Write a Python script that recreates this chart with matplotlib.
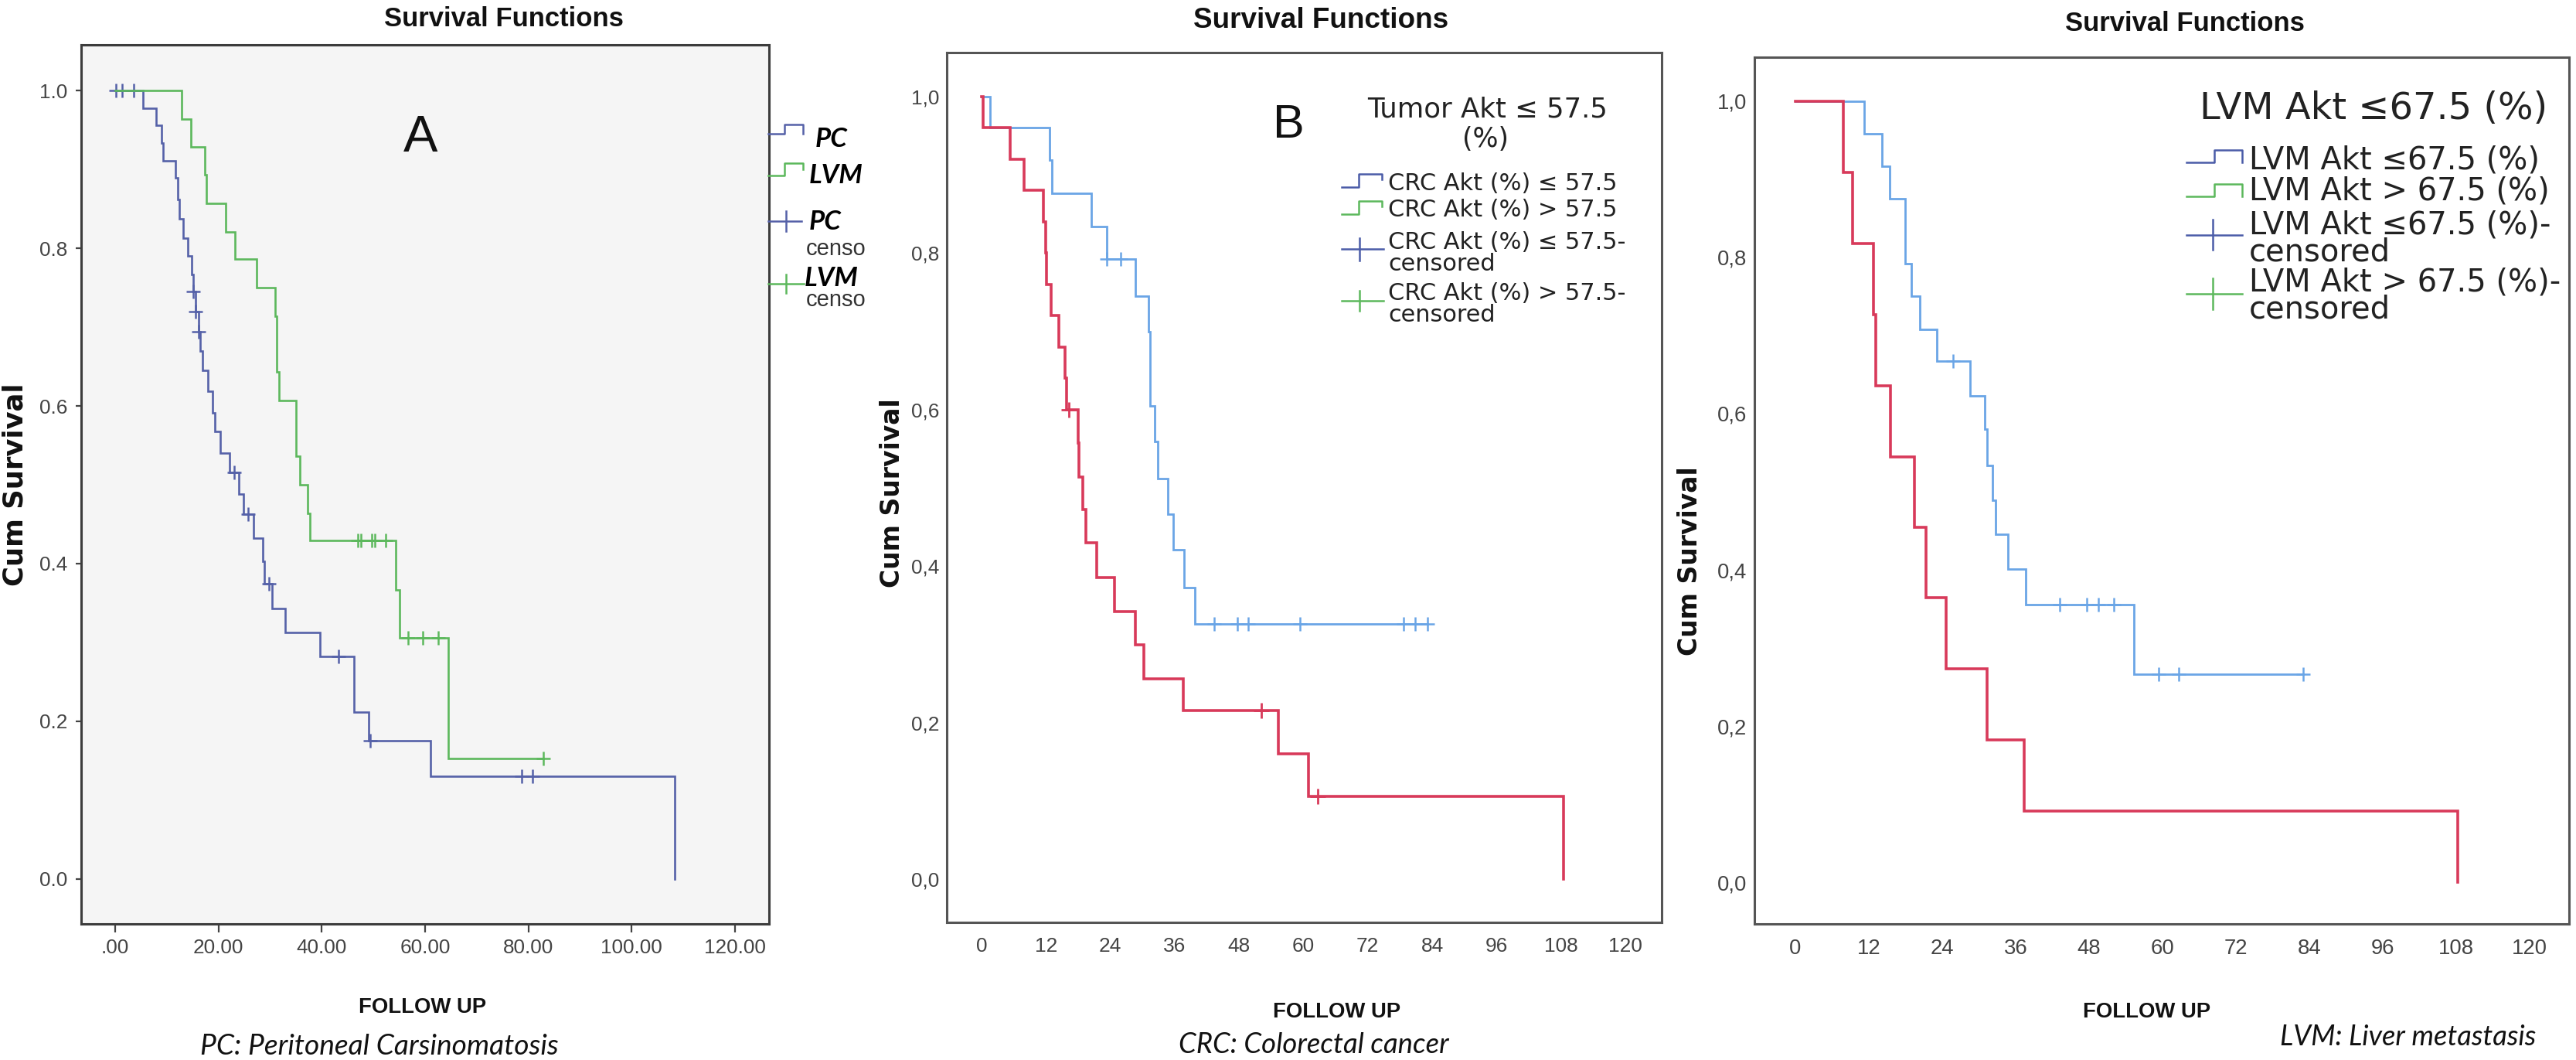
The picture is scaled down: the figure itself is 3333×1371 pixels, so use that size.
import numpy as np
import matplotlib
matplotlib.use("Agg")
import matplotlib.pyplot as plt
from matplotlib.lines import Line2D
from matplotlib import font_manager
from matplotlib.transforms import Bbox, TransformedBbox

# ---------------- data ----------------
# Panel A : PC vs LVM
pc_times = [5.4, 7.9, 8.9, 9.2, 11.7, 12.1, 12.4, 13.1, 14.1, 14.8, 15.1, 15.6, 16.1,
            16.5, 16.9, 17.9, 18.9, 19.3, 20.3, 22.2, 24.0, 24.9, 26.8, 28.6, 28.8,
            30.3, 32.9, 39.6, 46.3, 49.1, 61.1, 108.4]
pc_surv = [0.978, 0.956, 0.933, 0.911, 0.889, 0.862, 0.837, 0.813, 0.790, 0.767, 0.745,
           0.720, 0.694, 0.670, 0.645, 0.619, 0.591, 0.568, 0.540, 0.516, 0.488, 0.463,
           0.432, 0.403, 0.374, 0.343, 0.313, 0.282, 0.212, 0.1755, 0.130, 0.0]
pc_censored = [0.2, 1.4, 3.6, 15.1, 15.6, 16.1, 23.1, 25.8, 29.8, 43.3, 49.4, 78.7, 80.8]

lvm_times = [12.9, 14.6, 17.4, 17.6, 21.4, 23.2, 27.4, 31.0, 31.3, 31.7, 35.0, 35.8,
             37.3, 37.7, 54.3, 55.0, 64.5]
lvm_surv = [0.964, 0.929, 0.893, 0.857, 0.821, 0.786, 0.750, 0.714, 0.643, 0.607, 0.536,
            0.500, 0.464, 0.429, 0.367, 0.306, 0.153]
lvm_censored = [47.0, 47.6, 49.6, 50.2, 52.3, 56.7, 59.5, 62.5, 82.9]

# Panel B : CRC Akt (%) <= 57.5 vs > 57.5
crc_low_times = [1.5, 12.7, 13.1, 20.4, 23.3, 28.7, 31.1, 31.4, 32.2, 32.8, 34.7, 35.7,
                 37.7, 39.7]
crc_low_surv = [0.960, 0.919, 0.876, 0.834, 0.792, 0.745, 0.699, 0.605, 0.559, 0.512,
                0.466, 0.421, 0.373, 0.326]
crc_low_censored = [23.3, 25.9, 43.4, 47.7, 49.7, 59.4, 78.7, 80.9, 83.1]

crc_high_times = [0.3, 5.3, 7.9, 11.5, 12.0, 12.1, 13.0, 14.4, 15.6, 15.8, 18.0, 18.1,
                  18.8, 19.4, 21.5, 24.7, 28.6, 30.3, 37.6, 55.3, 61.0, 108.5]
crc_high_surv = [0.960, 0.920, 0.880, 0.840, 0.800, 0.760, 0.720, 0.680, 0.640, 0.600,
                 0.557, 0.514, 0.472, 0.430, 0.385, 0.342, 0.300, 0.256, 0.216, 0.160,
                 0.106, 0.0]
crc_high_censored = [16.2, 52.2, 62.7]

# Panel C : LVM Akt <= 67.5 vs > 67.5
lvmakt_low_times = [11.3, 14.2, 15.4, 17.9, 18.0, 18.9, 20.4, 23.1, 28.5, 30.9, 31.3,
                    32.2, 32.7, 34.7, 37.6, 55.3]
lvmakt_low_surv = [0.958, 0.917, 0.875, 0.833, 0.792, 0.750, 0.708, 0.667, 0.623, 0.580,
                   0.534, 0.489, 0.446, 0.401, 0.356, 0.267]
lvmakt_low_censored = [25.8, 43.2, 47.6, 49.6, 52.1, 59.4, 62.7, 83.0]

lvmakt_high_times = [7.8, 9.4, 12.8, 13.1, 15.6, 19.4, 21.3, 24.7, 31.3, 37.4, 108.3]
lvmakt_high_surv = [0.909, 0.818, 0.727, 0.636, 0.545, 0.455, 0.364, 0.273, 0.182,
                    0.091, 0.0]
lvmakt_high_censored = []

# ticks
a_xticks = [0, 20, 40, 60, 80, 100, 120]
a_xticklabels = [".00", "20.00", "40.00", "60.00", "80.00", "100.00", "120.00"]
a_yticks = [0.0, 0.2, 0.4, 0.6, 0.8, 1.0]
a_yticklabels = ["0.0", "0.2", "0.4", "0.6", "0.8", "1.0"]
bc_xticks = [0, 12, 24, 36, 48, 60, 72, 84, 96, 108, 120]
bc_xticklabels = ["0", "12", "24", "36", "48", "60", "72", "84", "96", "108", "120"]
bc_yticks = [0.0, 0.2, 0.4, 0.6, 0.8, 1.0]
bc_yticklabels = ["0,0", "0,2", "0,4", "0,6", "0,8", "1,0"]

# ---------------- styling ----------------
W, H = 3333, 1371
names = {f.name for f in font_manager.fontManager.ttflist}
NARROW = "Liberation Sans Narrow" if "Liberation Sans Narrow" in names else "Liberation Sans"
ARIAL = "Liberation Sans"
WIDE = "DejaVu Sans"
CAL = "Lato" if "Lato" in names else "Open Sans"

PC_COL = "#5561a8"
LVM_COL = "#5cb85c"
BLUE = "#6aa5e6"
RED = "#d83a5a"
LEG_BLUE = "#4b5ca8"
LEG_GREEN = "#5cb85c"

fig = plt.figure(figsize=(W / 100, H / 100), dpi=100)
fig.patch.set_facecolor("white")
renderer = fig.canvas.get_renderer()


def size_for(s, target_w, vertical=False, base=20.0, **kw):
    """font size at which text s is target_w pixels long"""
    t = fig.text(0.5, 0.5, s, fontsize=base, **kw)
    bb = t.get_window_extent(renderer)
    t.remove()
    w = bb.height if vertical else bb.width
    return base * target_w / w


def rect(l, t, r, b):
    return [l / W, 1 - b / H, (r - l) / W, (b - t) / H]


def ftxt(x, y, s, width=None, vertical=False, **kw):
    if width is not None:
        kw["fontsize"] = size_for(s, width, vertical=vertical,
                                  **{k: v for k, v in kw.items() if k in
                                     ("fontfamily", "fontweight", "fontstyle", "rotation")})
    return fig.text(x / W, 1 - y / H, s, **kw)


def fline(xs, ys, color, lw=1.8, **kw):
    fig.add_artist(Line2D([x / W for x in xs], [1 - y / H for y in ys],
                          transform=fig.transFigure, color=color, lw=lw, **kw))


def km(ax, times, surv, cens, color, lw, ms=13, mew=2.0):
    t = np.concatenate([[0.0], np.asarray(times, float)])
    s = np.concatenate([[1.0], np.asarray(surv, float)])
    if len(cens) and max(cens) > t[-1]:
        t = np.append(t, max(cens))
        s = np.append(s, s[-1])
    ax.step(t, s, where="post", color=color, lw=lw, solid_joinstyle="miter")
    if len(cens):
        c = np.asarray(cens, float)
        idx = np.searchsorted(t, c, side="right") - 1
        ax.plot(c, s[idx], ls="none", marker="+", ms=ms, mew=mew, color=color)


def frame(ax, col, lw):
    for sp in ax.spines.values():
        sp.set_color(col)
        sp.set_linewidth(lw)


# ---------------- Panel A ----------------
tickA = size_for("120.00", 80, fontfamily=NARROW)
axA = fig.add_axes(rect(105, 58, 995, 1195))
axA.set_facecolor("#f5f5f5")
km(axA, pc_times, pc_surv, pc_censored, PC_COL, 1.9, ms=13, mew=1.8)
km(axA, lvm_times, lvm_surv, lvm_censored, LVM_COL, 1.9, ms=13, mew=1.8)
axA.set_xlim(-6.6, 126.6)
axA.set_ylim(-0.057, 1.058)
axA.set_xticks(a_xticks)
axA.set_xticklabels(a_xticklabels, fontfamily=NARROW, fontsize=tickA, color="#444444")
axA.set_yticks(a_yticks)
axA.set_yticklabels(a_yticklabels, fontfamily=NARROW, fontsize=tickA, color="#444444")
axA.tick_params(axis="x", direction="out", length=8, width=1.6, color="#444444", pad=6)
axA.tick_params(axis="y", direction="out", length=5, width=1.6, color="#444444", pad=8)
frame(axA, "#3c3c3c", 2.2)

ftxt(652, 25, "Survival Functions", width=309, ha="center", va="center",
     fontfamily=NARROW, fontweight="bold", color="#111111")
ftxt(544, 179, "A", ha="center", va="center", fontfamily=NARROW, fontsize=48,
     color="#111111")
ftxt(20, 627, "Cum Survival", width=263, vertical=True, ha="center", va="center",
     rotation=90, fontfamily=WIDE, fontweight="bold", color="#111111")
ftxt(547, 1303, "FOLLOW UP", width=165, ha="center", va="center", fontfamily=NARROW,
     fontweight="bold", color="#111111")
ftxt(491, 1353, "PC: Peritoneal Carsinomatosis", width=463, ha="center", va="center",
     fontfamily=CAL, fontstyle="italic", color="#111111")

# legend A (panel image is cut at x = 1120)
clipA = TransformedBbox(Bbox.from_extents(0, 0, 1120 / W, 1), fig.transFigure)
fline([994, 1015, 1015, 1039, 1039], [173, 173, 161, 161, 173], PC_COL)
fline([994, 1015, 1015, 1039, 1039], [227, 227, 211, 211, 219], LVM_COL)
fline([994, 1037], [286, 286], PC_COL)
fline([1017, 1017], [273, 299], PC_COL)
fline([994, 1040], [367, 367], LVM_COL)
fline([1017, 1017], [355, 379], LVM_COL)
bi = dict(fontfamily=CAL, fontweight="bold", fontstyle="italic", fontsize=25)
sm = dict(fontfamily=ARIAL, fontsize=21, color="#333333")
legA = [(1055, 180, "PC", bi), (1047, 227, "LVM", bi), (1047, 287, "PC", bi),
        (1043, 322, "censored", sm), (1041, 360, "LVM", bi), (1043, 388, "censored", sm)]
for x, y, s, kw in legA:
    t = ftxt(x, y, s, ha="left", va="center", **kw)
    t.set_clip_box(clipA)
    t.set_clip_on(True)


# ---------------- Panels B and C ----------------
def setup_bc(ax, xlim, ylim, fs):
    ax.set_xlim(*xlim)
    ax.set_ylim(*ylim)
    ax.set_xticks(bc_xticks)
    ax.set_xticklabels(bc_xticklabels, fontfamily=NARROW, fontsize=fs, color="#444444")
    ax.set_yticks(bc_yticks)
    ax.set_yticklabels(bc_yticklabels, fontfamily=NARROW, fontsize=fs, color="#444444")
    ax.tick_params(axis="x", length=0, pad=14)
    ax.tick_params(axis="y", length=0, pad=7)
    frame(ax, "#555555", 2.2)


axB = fig.add_axes(rect(1225, 68, 2150, 1193))
km(axB, crc_low_times, crc_low_surv, crc_low_censored, BLUE, 2.0, ms=13, mew=1.8)
km(axB, crc_high_times, crc_high_surv, crc_high_censored, RED, 2.6, ms=14, mew=2.0)
setup_bc(axB, (-6.5, 126.8), (-0.055, 1.056), size_for("108", 44, fontfamily=NARROW))

ftxt(1709, 26, "Survival Functions", width=330, ha="center", va="center",
     fontfamily=ARIAL, fontweight="bold", color="#111111")
ftxt(1667, 162, "B", ha="center", va="center", fontfamily=NARROW, fontsize=44,
     color="#111111")
ftxt(1155, 638, "Cum Survival", width=245, vertical=True, ha="center", va="center",
     rotation=90, fontfamily=WIDE, fontweight="bold", color="#111111")
ftxt(1730, 1309, "FOLLOW UP", width=165, ha="center", va="center", fontfamily=NARROW,
     fontweight="bold", color="#111111")
ftxt(1700, 1351, "CRC: Colorectal cancer", width=349, ha="center", va="center",
     fontfamily=CAL, fontstyle="italic", color="#111111")

# legend B
ftxt(1925, 142, "Tumor Akt \u2264 57.5", width=311, ha="center", va="center",
     fontfamily=WIDE, color="#222222")
ftxt(1922, 180, "(%)", ha="center", va="center", fontfamily=WIDE, fontsize=25,
     color="#222222")
fline([1736, 1758, 1758, 1788, 1788], [242, 242, 225, 225, 232], LEG_BLUE)
fline([1736, 1758, 1758, 1788, 1788], [277, 277, 260, 260, 267], LEG_GREEN)
fline([1736, 1790], [322, 322], LEG_BLUE)
fline([1759, 1759], [308, 337], LEG_BLUE)
fline([1736, 1790], [389, 389], LEG_GREEN)
fline([1759, 1759], [376, 402], LEG_GREEN)
legB_fs = size_for("CRC Akt (%) \u2264 57.5", 296, fontfamily=WIDE)
for y, s in [(237, "CRC Akt (%) \u2264 57.5"), (271, "CRC Akt (%) > 57.5"),
             (313, "CRC Akt (%) \u2264 57.5-"), (342, "censored"),
             (380, "CRC Akt (%) > 57.5-"), (407, "censored")]:
    ftxt(1796, y, s, ha="left", va="center", fontfamily=WIDE, fontsize=legB_fs,
         color="#222222")

axC = fig.add_axes(rect(2270, 74, 3324, 1195))
km(axC, lvmakt_low_times, lvmakt_low_surv, lvmakt_low_censored, BLUE, 2.0, ms=13, mew=1.8)
km(axC, lvmakt_high_times, lvmakt_high_surv, lvmakt_high_censored, RED, 2.6)
setup_bc(axC, (-6.7, 126.5), (-0.053, 1.056), size_for("108", 46, fontfamily=NARROW))

ftxt(2827, 31, "Survival Functions", width=309, ha="center", va="center",
     fontfamily=ARIAL, fontweight="bold", color="#111111")
ftxt(2187, 726, "Cum Survival", width=245, vertical=True, ha="center", va="center",
     rotation=90, fontfamily=WIDE, fontweight="bold", color="#111111")
ftxt(2778, 1309, "FOLLOW UP", width=165, ha="center", va="center", fontfamily=NARROW,
     fontweight="bold", color="#111111")
ftxt(3116, 1342, "LVM: Liver metastasis", width=331, ha="center", va="center",
     fontfamily=CAL, fontstyle="italic", color="#111111")

# legend C
ftxt(3071, 140, "LVM Akt \u226467.5 (%)", width=449, ha="center", va="center",
     fontfamily=WIDE, color="#222222")
fline([2829, 2865, 2865, 2901, 2901], [210, 210, 194, 194, 210], LEG_BLUE)
fline([2829, 2865, 2865, 2901, 2901], [254, 254, 238, 238, 254], LEG_GREEN)
fline([2829, 2901], [304, 304], LEG_BLUE)
fline([2863, 2863], [284, 323], LEG_BLUE)
fline([2829, 2901], [380, 380], LEG_GREEN)
fline([2863, 2863], [360, 400], LEG_GREEN)
legC_fs = size_for("LVM Akt \u226467.5 (%)", 376, fontfamily=WIDE)
for y, s in [(207, "LVM Akt \u226467.5 (%)"), (247, "LVM Akt > 67.5 (%)"),
             (291, "LVM Akt \u226467.5 (%)-"), (326, "censored"),
             (365, "LVM Akt > 67.5 (%)-"), (400, "censored")]:
    ftxt(2910, y, s, ha="left", va="center", fontfamily=WIDE, fontsize=legC_fs,
         color="#222222")

fig.savefig("out.png", dpi=100, facecolor="white")
